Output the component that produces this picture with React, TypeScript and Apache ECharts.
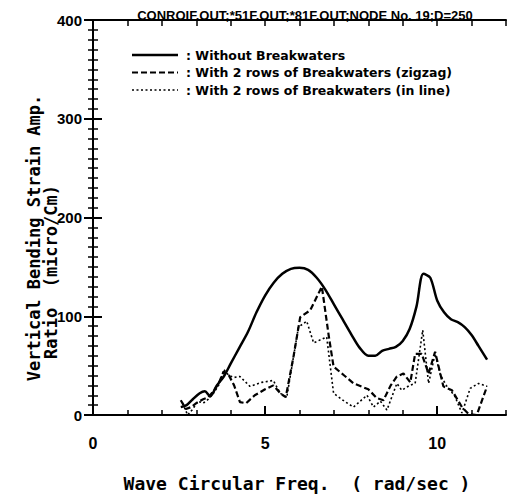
import React, { useEffect, useRef } from "react";
import * as echarts from "echarts";

const titleText = "CONROIF.OUT;*51F.OUT;*81F.OUT;NODE No. 19;D=250";
const xAxisName = "Wave Circular Freq.  ( rad/sec )";
const yAxisName1 = "Vertical Bending Strain Amp.";
const yAxisName2 = "Ratio  (micro/Cm)";
const seriesNames = [
  "Without Breakwaters",
  "With 2 rows of Breakwaters (zigzag)",
  "With 2 rows of Breakwaters (in line)",
];

const freqWithout = [2.55, 2.72, 2.9, 3.1, 3.25, 3.4, 3.6, 3.8, 4.0, 4.25, 4.5, 4.75, 5.0, 5.25, 5.5, 5.75, 6.0, 6.25, 6.5, 6.75, 7.0, 7.25, 7.5, 7.75, 8.0, 8.2, 8.4, 8.6, 8.8, 9.0, 9.2, 9.4, 9.6, 9.8, 10.0, 10.2, 10.4, 10.6, 10.8, 11.0, 11.2, 11.45];
const ampWithout = [8, 10, 16, 22, 24, 19, 30, 39, 52, 68, 84, 104, 121, 134, 143, 148, 149, 147, 139, 127, 112, 97, 82, 68, 60, 60, 65, 67, 69, 75, 87, 110, 143, 139, 116, 104, 97, 94, 89, 81, 70, 56];

const freqZigzag = [2.55, 2.7, 2.85, 3.0, 3.2, 3.35, 3.5, 3.65, 3.8, 3.95, 4.1, 4.27, 4.45, 4.7, 5.0, 5.24, 5.44, 5.6, 5.82, 6.02, 6.31, 6.65, 6.85, 6.99, 7.3, 7.57, 8.0, 8.25, 8.44, 8.65, 8.83, 9.02, 9.22, 9.36, 9.55, 9.75, 9.94, 10.18, 10.43, 10.72, 10.91, 11.15, 11.45];
const ampZigzag = [15, 6, 8, 12, 16, 18, 24, 32, 44, 40, 30, 13, 12, 20, 26, 30, 22, 18, 58, 99, 106, 130, 80, 49, 40, 32, 26, 17, 15, 30, 39, 42, 33, 62, 62, 42, 64, 29, 25, 8, 1, 0, 29];

const freqInline = [2.6, 2.75, 2.9, 3.05, 3.2, 3.35, 3.5, 3.65, 3.8, 3.95, 4.1, 4.27, 4.56, 4.9, 5.24, 5.44, 5.63, 5.97, 6.21, 6.41, 6.79, 6.99, 7.3, 7.57, 7.96, 8.15, 8.35, 8.54, 8.83, 8.97, 9.2, 9.36, 9.58, 9.75, 9.94, 10.1, 10.3, 10.5, 10.72, 10.96, 11.2, 11.45];
const ampInline = [12, 0, 6, 14, 12, 16, 22, 30, 46, 40, 38, 39, 29, 33, 35, 22, 18, 89, 95, 73, 79, 22, 14, 8, 20, 8, 14, 5, 32, 25, 30, 32, 86, 32, 62, 40, 28, 20, 2, 27, 32, 29];

const zip = (xs: number[], ys: number[]) => xs.map((x, i) => [x, ys[i]]);

const sansFont = "'Liberation Sans', Arial, sans-serif";
const legendFont = "'DejaVu Sans', sans-serif";
const monoFont = "'DejaVu Sans Mono', monospace";

const lineStyles = [
  { width: 2.5, dash: null as number[] | null },
  { width: 2.2, dash: [6, 3] },
  { width: 1.6, dash: [2, 2.5] },
];

export default function App() {
  const ref = useRef<HTMLDivElement>(null);
  useEffect(() => {
    if (!ref.current) return;
    const chart = echarts.init(ref.current, null, { renderer: "svg" });
    const axisLine = { show: true, lineStyle: { color: "#000", width: 2 } };
    const baseX = { type: "value", min: 0, max: 12, splitLine: { show: false } };
    const baseY = { type: "value", min: 0, max: 400, interval: 100, splitLine: { show: false } };

    const legendGraphics: any[] = [];
    seriesNames.forEach((name, i) => {
      const y = 55 + i * 17.5;
      legendGraphics.push({
        type: "line",
        shape: { x1: 132, y1: y, x2: 178, y2: y },
        style: { stroke: "#000", lineWidth: lineStyles[i].width, lineDash: lineStyles[i].dash || undefined },
      });
      legendGraphics.push({
        type: "text",
        x: 186,
        y,
        style: { text: ": " + name, fontFamily: legendFont, fontWeight: "bold", fontSize: 12.5, fill: "#000", textAlign: "left", textVerticalAlign: "middle" },
      });
    });

    chart.setOption({
      animation: false,
      backgroundColor: "#fff",
      title: {
        text: titleText,
        left: 300,
        top: 4,
        textAlign: "center",
        textStyle: { fontFamily: sansFont, fontWeight: "bold", fontSize: 13, color: "#000" },
      },
      grid: { left: 93, right: 2, top: 20, bottom: 84, containLabel: false },
      xAxis: [
        {
          ...baseX,
          position: "bottom",
          interval: 5,
          axisLine,
          axisTick: { show: true, inside: true, length: 9, lineStyle: { color: "#000", width: 2 } },
          axisLabel: { show: true, margin: 20, showMaxLabel: false, fontFamily: sansFont, fontWeight: "bold", fontSize: 16, color: "#000" },
        },
        {
          ...baseX,
          position: "bottom",
          interval: 1,
          axisLine: { show: false },
          axisTick: { show: true, inside: true, length: 5, lineStyle: { color: "#000", width: 1.5 } },
          axisLabel: { show: false },
        },
        {
          ...baseX,
          position: "top",
          interval: 1,
          axisLine,
          axisTick: { show: true, inside: true, length: 6, lineStyle: { color: "#000", width: 1.5 } },
          axisLabel: { show: false },
        },
      ],
      yAxis: [
        {
          ...baseY,
          position: "left",
          axisLine,
          axisTick: { show: true, inside: true, length: 9, lineStyle: { color: "#000", width: 2 } },
          minorTick: { show: true, splitNumber: 10, length: 5, lineStyle: { color: "#000", width: 1.5 } },
          axisLabel: { show: true, margin: 11, fontFamily: sansFont, fontWeight: "bold", fontSize: 15, color: "#000" },
        },
        {
          ...baseY,
          position: "right",
          axisLine,
          axisTick: { show: true, inside: true, length: 9, lineStyle: { color: "#000", width: 2 } },
          minorTick: { show: true, splitNumber: 10, length: 5, lineStyle: { color: "#000", width: 1.5 } },
          axisLabel: { show: false },
        },
      ],
      graphic: [
        ...legendGraphics,
        {
          type: "text",
          x: 297,
          y: 483,
          style: { text: xAxisName, fontFamily: monoFont, fontWeight: "bold", fontSize: 18, fill: "#000", textAlign: "center", textVerticalAlign: "middle" },
        },
        {
          type: "text",
          x: 34,
          y: 238,
          rotation: Math.PI / 2,
          style: { text: yAxisName1, fontFamily: monoFont, fontWeight: "bold", fontSize: 17, fill: "#000", textAlign: "center", textVerticalAlign: "middle" },
        },
        {
          type: "text",
          x: 51,
          y: 272,
          rotation: Math.PI / 2,
          style: { text: yAxisName2, fontFamily: monoFont, fontWeight: "bold", fontSize: 17, fill: "#000", textAlign: "center", textVerticalAlign: "middle" },
        },
      ],
      series: [
        {
          name: seriesNames[0],
          type: "line",
          xAxisIndex: 0,
          yAxisIndex: 0,
          data: zip(freqWithout, ampWithout),
          smooth: 0.3,
          symbol: "none",
          color: "#000",
          lineStyle: { color: "#000", width: lineStyles[0].width, type: "solid" },
        },
        {
          name: seriesNames[1],
          type: "line",
          xAxisIndex: 0,
          yAxisIndex: 0,
          data: zip(freqZigzag, ampZigzag),
          symbol: "none",
          color: "#000",
          lineStyle: { color: "#000", width: lineStyles[1].width, type: lineStyles[1].dash },
        },
        {
          name: seriesNames[2],
          type: "line",
          xAxisIndex: 0,
          yAxisIndex: 0,
          data: zip(freqInline, ampInline),
          symbol: "none",
          color: "#000",
          lineStyle: { color: "#000", width: lineStyles[2].width, type: lineStyles[2].dash },
        },
      ],
    });
    return () => chart.dispose();
  }, []);
  return <div ref={ref} style={{ width: 508, height: 499, position: "absolute", left: 0, top: 0 }} />;
}
